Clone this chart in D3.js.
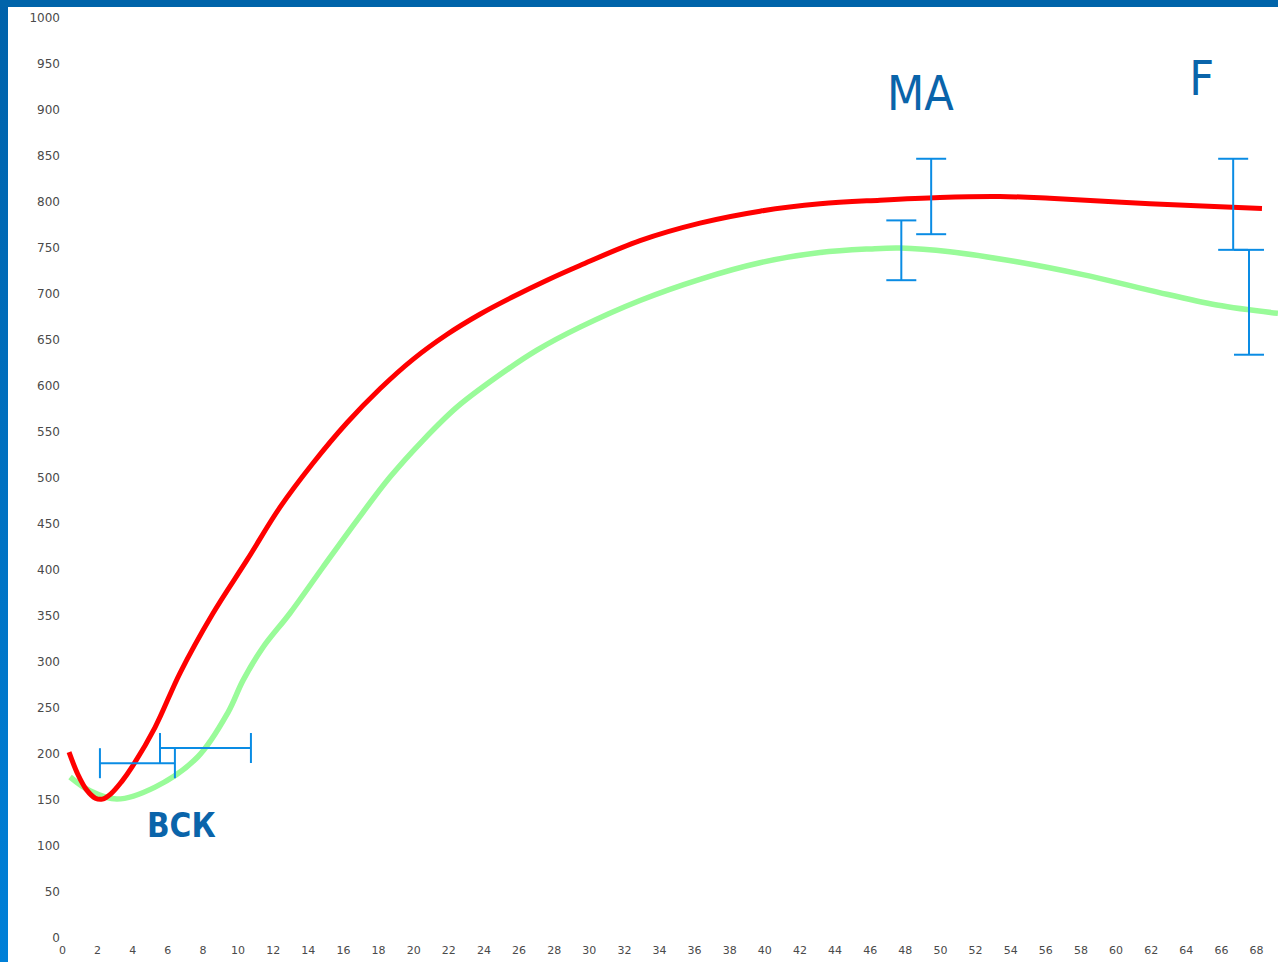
<!DOCTYPE html>
<html>
<head>
<meta charset="utf-8">
<script src="https://cdn.jsdelivr.net/npm/d3@7"></script>
<style>
  html, body { margin: 0; padding: 0; background: #ffffff; }
  svg { display: block; }
</style>
</head>
<body>
<script>
// ---- data ----
const xTicks = d3.range(0, 70, 2);          // 0 .. 68
const yTicks = d3.range(0, 1050, 50);       // 0 .. 1000

const redX = [0.4, 0.9, 1.4, 1.9, 2.3, 2.8, 3.4, 3.99, 5.3, 6.72, 8.6, 10.54, 12.41, 14.29, 16.23, 18.11, 19.99, 21.92, 23.8, 25.68, 27.62, 29.5, 32.92, 36.33, 39.75, 43.17, 46.58, 50.0, 53.42, 56.26, 61.96, 68.34];
const redY = [202, 178, 161, 152, 151, 157, 170, 186, 229, 288, 353, 411, 468, 516, 560, 597, 629, 656, 678, 697, 715, 731, 758, 777, 790, 798, 802, 805, 806, 804, 798, 793];

const greenX = [0.46, 1.59, 3.13, 5.3, 7.74, 9.45, 10.31, 11.45, 12.98, 14.86, 16.8, 18.68, 20.56, 22.49, 24.77, 27.05, 29.5, 32.92, 36.33, 39.75, 43.17, 46.01, 47.72, 50.57, 54.38, 58.14, 61.96, 65.77, 69.25];
const greenY = [175, 160, 151, 164, 197, 245, 280, 316, 353, 403, 454, 501, 541, 577, 610, 639, 664, 693, 716, 734, 745, 749, 750, 746, 735, 721, 704, 688, 679];

// vertical error bars: x, low, high
const vBarX    = [49.5, 47.8, 66.7, 67.6];
const vBarLow  = [765, 715, 748, 634];
const vBarHigh = [847, 780, 847, 748];

// horizontal error bars: y, from, to
const hBarY    = [190, 206.5];
const hBarFrom = [2.16, 5.58];
const hBarTo   = [6.43, 10.76];

// annotations
const labelText = ["ВСК", "МА", "F"];
const labelX    = [4.84, 46.98, 64.2];
const labelY    = [110, 900, 916];

// ---- drawing ----
const W = 1278, H = 962;
const svg = d3.select("body").append("svg").attr("width", W).attr("height", H);

const defs = svg.append("defs");
const grad = defs.append("linearGradient").attr("id", "sideGrad")
  .attr("x1", 0).attr("y1", 0).attr("x2", 0).attr("y2", 1);
grad.append("stop").attr("offset", "0%").attr("stop-color", "#0062aa");
grad.append("stop").attr("offset", "100%").attr("stop-color", "#0080d8");

svg.append("rect").attr("x", 0).attr("y", 0).attr("width", W).attr("height", H).attr("fill", "#ffffff");

const x = d3.scaleLinear().domain([0, 68]).range([62, 1256]);
const y = d3.scaleLinear().domain([0, 1000]).range([938, 18]);

// axes (labels only)
const yAxis = svg.append("g").attr("transform", "translate(60,0)")
  .call(d3.axisLeft(y).tickValues(yTicks).tickSize(0).tickPadding(0).tickFormat(d3.format("d")));
yAxis.select(".domain").remove();
yAxis.selectAll("text").attr("font-family", "DejaVu Sans").attr("font-size", 12).attr("fill", "#4a4a4a");

const xAxis = svg.append("g").attr("transform", "translate(0,946)")
  .call(d3.axisBottom(x).tickValues(xTicks).tickSize(0).tickPadding(0).tickFormat(d3.format("d")));
xAxis.select(".domain").remove();
xAxis.selectAll("text").attr("font-family", "DejaVu Sans").attr("font-size", 11).attr("fill", "#4a4a4a");

const line = d3.line().x(d => x(d[0])).y(d => y(d[1])).curve(d3.curveCatmullRom.alpha(0.5));

svg.append("path").datum(d3.zip(greenX, greenY))
  .attr("d", line).attr("fill", "none").attr("stroke", "#99fb99").attr("stroke-width", 5.5);

svg.append("path").datum(d3.zip(redX, redY))
  .attr("d", line).attr("fill", "none").attr("stroke", "#ff0000").attr("stroke-width", 5);

const barColor = "#0a8ce4";
const cap = 15;
const vb = svg.append("g").attr("stroke", barColor).attr("stroke-width", 2).attr("fill", "none");
vBarX.forEach((bx, i) => {
  const px = x(bx), y1 = y(vBarLow[i]), y2 = y(vBarHigh[i]);
  vb.append("line").attr("x1", px).attr("x2", px).attr("y1", y1).attr("y2", y2);
  vb.append("line").attr("x1", px - cap).attr("x2", px + cap).attr("y1", y1).attr("y2", y1);
  vb.append("line").attr("x1", px - cap).attr("x2", px + cap).attr("y1", y2).attr("y2", y2);
});
hBarY.forEach((by, i) => {
  const py = y(by), x1 = x(hBarFrom[i]), x2 = x(hBarTo[i]);
  vb.append("line").attr("x1", x1).attr("x2", x2).attr("y1", py).attr("y2", py);
  vb.append("line").attr("x1", x1).attr("x2", x1).attr("y1", py - cap).attr("y2", py + cap);
  vb.append("line").attr("x1", x2).attr("x2", x2).attr("y1", py - cap).attr("y2", py + cap);
});

// annotations
labelText.forEach((t, i) => {
  const big = i > 0;
  svg.append("text").text(t)
    .attr("x", x(labelX[i])).attr("y", y(labelY[i]))
    .attr("font-family", "DejaVu Sans Condensed, DejaVu Sans")
    .attr("font-size", big ? 48 : 33)
    .attr("font-weight", big ? "normal" : "bold")
    .attr("fill", "#0a64aa");
});

// blue frame
svg.append("rect").attr("x", 0).attr("y", 0).attr("width", 8).attr("height", H).attr("fill", "url(#sideGrad)");
svg.append("rect").attr("x", 0).attr("y", 0).attr("width", W).attr("height", 7).attr("fill", "#0064aa");
</script>
</body>
</html>
